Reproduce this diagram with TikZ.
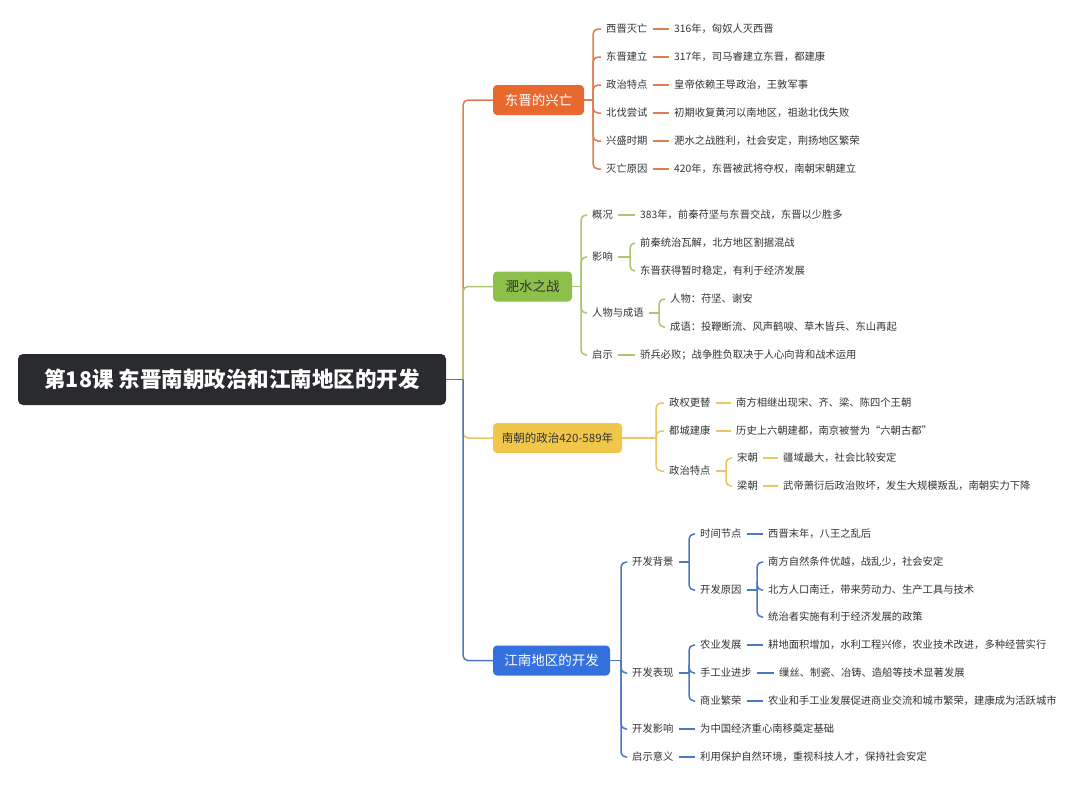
\documentclass[tikz,border=0pt]{standalone}
\usepackage{fontspec}
\setmainfont{Noto Sans CJK SC}
\definecolor{rootc}{HTML}{2A2B2E}
\definecolor{orc}{HTML}{E8692D}
\definecolor{orl}{HTML}{E07D4E}
\definecolor{grc}{HTML}{8CC04B}
\definecolor{grl}{HTML}{A9C86E}
\definecolor{yec}{HTML}{F0C64B}
\definecolor{yel}{HTML}{E9C660}
\definecolor{blc}{HTML}{3471DE}
\definecolor{bll}{HTML}{4A78C4}
\definecolor{txc}{HTML}{333333}
\begin{document}
\begin{tikzpicture}[x=1pt,y=-1pt,
  txt/.style={anchor=west,inner xsep=5pt,inner ysep=1pt,font=\fontsize{10.3}{12}\selectfont,text=txc},
  bbox/.style={rounded corners=4pt,minimum height=30pt,inner sep=0pt,font=\fontsize{13.5}{16}\selectfont},
  sbox/.style={bbox,font=\fontsize{11.5}{14}\selectfont},
  ln/.style={line width=1.5pt,rounded corners=5pt},
  lo/.style={ln,draw=orl}, lg/.style={ln,draw=grl}, ly/.style={ln,draw=yel}, lb/.style={ln,draw=bll}]
\useasboundingbox[fill=white] (0,0) rectangle (1080,788);

% root and branches
\node[rounded corners=5pt,fill=rootc,text=white,minimum width=428pt,minimum height=51pt,inner sep=0pt,font=\fontsize{21.5}{26}\selectfont\bfseries] (root) at (232,379.5) {第18课 东晋南朝政治和江南地区的开发};
\node[bbox,fill=orc,text=white,minimum width=91pt] (b1) at (538.5,100) {东晋的兴亡};
\node[bbox,fill=grc,text=txc,minimum width=79pt] (b2) at (532.5,286.5) {淝水之战};
\node[sbox,fill=yec,text=txc,minimum width=129pt] (b3) at (557.5,438) {南朝的政治420-589年};
\node[bbox,fill=blc,text=white,minimum width=117pt] (b4) at (551.5,660.5) {江南地区的开发};
\coordinate (rj) at (463,379.5);
\draw[lo] (rj) |- (b1.west);
\draw[lg] (rj) |- (b2.west);
\draw[ly] (rj) |- (b3.west);
\draw[lb] (rj) |- (b4.west);
\draw[lb] (root.east) -- (rj);

% orange
\node[txt] (o1) at (601,29) {西晋灭亡};
\node[txt] (o2) at (601,57) {东晋建立};
\node[txt] (o3) at (601,85) {政治特点};
\node[txt] (o4) at (601,113) {北伐尝试};
\node[txt] (o5) at (601,141) {兴盛时期};
\node[txt] (o6) at (601,169) {灭亡原因};
\node[txt] (ol1) at (669,29) {316年，匈奴人灭西晋};
\node[txt] (ol2) at (669,57) {317年，司马睿建立东晋，都建康};
\node[txt] (ol3) at (669,85) {皇帝依赖王导政治，王敦军事};
\node[txt] (ol4) at (669,113) {初期收复黄河以南地区，祖逖北伐失败};
\node[txt] (ol5) at (669,141) {淝水之战胜利，社会安定，荆扬地区繁荣};
\node[txt] (ol6) at (669,169) {420年，东晋被武将夺权，南朝宋朝建立};
\coordinate (oj) at (593,100);
\draw[lo] (b1.east) -- (oj);
\foreach \i in {1,...,6}{
  \draw[lo] (oj) |- (o\i.west);
  \draw[lo] (o\i.east) -- (ol\i.west);
}

% green
\node[txt] (g1) at (587,215) {概况};
\node[txt] (g2) at (587,257) {影响};
\node[txt] (g3) at (587,313) {人物与成语};
\node[txt] (g4) at (587,355) {启示};
\node[txt] (gl1) at (635,215) {383年，前秦苻坚与东晋交战，东晋以少胜多};
\node[txt] (gl2a) at (635,243) {前秦统治瓦解，北方地区割据混战};
\node[txt] (gl2b) at (635,271) {东晋获得暂时稳定，有利于经济发展};
\node[txt] (gl3a) at (665,299) {人物：苻坚、谢安};
\node[txt] (gl3b) at (665,327) {成语：投鞭断流、风声鹤唳、草木皆兵、东山再起};
\node[txt] (gl4) at (635,355) {骄兵必败；战争胜负取决于人心向背和战术运用};
\coordinate (gj) at (581,286.5);
\draw[lg] (b2.east) -- (gj);
\foreach \i in {1,...,4}{\draw[lg] (gj) |- (g\i.west);}
\draw[lg] (g1.east) -- (gl1.west);
\draw[lg] (g4.east) -- (gl4.west);
\coordinate (g2j) at (630,257);
\draw[lg] (g2.east) -- (g2j);
\draw[lg] (g2j) |- (gl2a.west);
\draw[lg] (g2j) |- (gl2b.west);
\coordinate (g3j) at (659,313);
\draw[lg] (g3.east) -- (g3j);
\draw[lg] (g3j) |- (gl3a.west);
\draw[lg] (g3j) |- (gl3b.west);

% yellow
\node[txt] (y1) at (664,403) {政权更替};
\node[txt] (y2) at (664,431) {都城建康};
\node[txt] (y3) at (664,471) {政治特点};
\node[txt] (yl1) at (731,403) {南方相继出现宋、齐、梁、陈四个王朝};
\node[txt] (yl2) at (731,431) {历史上六朝建都，南京被誉为“六朝古都”};
\node[txt] (y31) at (732,458) {宋朝};
\node[txt] (y32) at (732,486) {梁朝};
\node[txt] (yl31) at (778,458) {疆域最大，社会比较安定};
\node[txt] (yl32) at (778,486) {武帝萧衍后政治败坏，发生大规模叛乱，南朝实力下降};
\coordinate (yj) at (656,438);
\draw[ly] (b3.east) -- (yj);
\foreach \i in {1,2,3}{\draw[ly] (yj) |- (y\i.west);}
\draw[ly] (y1.east) -- (yl1.west);
\draw[ly] (y2.east) -- (yl2.west);
\coordinate (y3j) at (726,471);
\draw[ly] (y3.east) -- (y3j);
\draw[ly] (y3j) |- (y31.west);
\draw[ly] (y3j) |- (y32.west);
\draw[ly] (y31.east) -- (yl31.west);
\draw[ly] (y32.east) -- (yl32.west);

% blue
\node[txt] (k1) at (627,562) {开发背景};
\node[txt] (k2) at (627,673) {开发表现};
\node[txt] (k3) at (627,729) {开发影响};
\node[txt] (k4) at (627,757) {启示意义};
\node[txt] (k11) at (695,534) {时间节点};
\node[txt] (k12) at (695,590) {开发原因};
\node[txt] (kl11) at (763,534) {西晋末年，八王之乱后};
\node[txt] (kl12a) at (763,562) {南方自然条件优越，战乱少，社会安定};
\node[txt] (kl12b) at (763,590) {北方人口南迁，带来劳动力、生产工具与技术};
\node[txt] (kl12c) at (763,617) {统治者实施有利于经济发展的政策};
\node[txt] (k21) at (695,645) {农业发展};
\node[txt] (k22) at (695,673) {手工业进步};
\node[txt] (k23) at (695,701) {商业繁荣};
\node[txt] (kl21) at (763,645) {耕地面积增加，水利工程兴修，农业技术改进，多种经营实行};
\node[txt] (kl22) at (774,673) {缫丝、制瓷、冶铸、造船等技术显著发展};
\node[txt] (kl23) at (763,701) {农业和手工业发展促进商业交流和城市繁荣，建康成为活跃城市};
\node[txt] (kl3) at (695,729) {为中国经济重心南移奠定基础};
\node[txt] (kl4) at (695,757) {利用保护自然环境，重视科技人才，保持社会安定};
\coordinate (kj) at (621,660.5);
\draw[lb] (b4.east) -- (kj);
\foreach \i in {1,...,4}{\draw[lb] (kj) |- (k\i.west);}
\draw[lb] (k3.east) -- (kl3.west);
\draw[lb] (k4.east) -- (kl4.west);
\coordinate (k1j) at (689,562);
\draw[lb] (k1.east) -- (k1j);
\draw[lb] (k1j) |- (k11.west);
\draw[lb] (k1j) |- (k12.west);
\draw[lb] (k11.east) -- (kl11.west);
\coordinate (k12j) at (757,590);
\draw[lb] (k12.east) -- (k12j);
\draw[lb] (k12j) |- (kl12a.west);
\draw[lb] (k12j) |- (kl12b.west);
\draw[lb] (k12j) |- (kl12c.west);
\coordinate (k2j) at (689,673);
\draw[lb] (k2.east) -- (k2j);
\draw[lb] (k2j) |- (k21.west);
\draw[lb] (k2j) |- (k22.west);
\draw[lb] (k2j) |- (k23.west);
\draw[lb] (k21.east) -- (kl21.west);
\draw[lb] (k22.east) -- (kl22.west);
\draw[lb] (k23.east) -- (kl23.west);
\end{tikzpicture}
\end{document}
